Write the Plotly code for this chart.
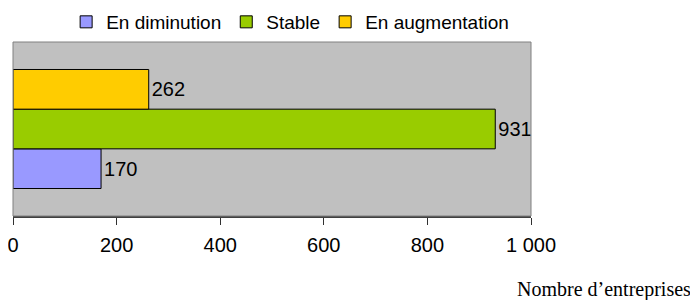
import plotly.graph_objects as go

series_names = ["En diminution", "Stable", "En augmentation"]
values = [170, 931, 262]
colors = ["#9999FF", "#99CC00", "#FFCC00"]
category = [""]
tick_vals = [0, 200, 400, 600, 800, 1000]
tick_text = ["0", "200", "400", "600", "800", "1 000"]
axis_title = "Nombre d\u2019entreprises"

# page body has an 8px default margin; figure is sized to fill the rest
fig = go.Figure()
for name, v, c in zip(series_names, values, colors):
    fig.add_trace(go.Bar(
        y=category, x=[v], name=name, orientation="h",
        marker=dict(color=c, line=dict(color="#000000", width=1)),
        text=[str(v)], textposition="outside",
        textfont=dict(family="Liberation Sans, Arial", size=20, color="#000000"),
        cliponaxis=False,
    ))

fig.update_layout(
    width=690, height=292,
    margin=dict(l=5, r=167, t=34, b=84, autoexpand=False),
    paper_bgcolor="white", plot_bgcolor="#C0C0C0",
    barmode="group", bargap=0.316, bargroupgap=0,
    font=dict(family="Liberation Sans, Arial", size=20, color="#000000"),
    showlegend=True,
    legend=dict(orientation="h", x=0.535, xanchor="center", y=1.115, yanchor="middle",
                yref="paper", traceorder="normal", itemwidth=30,
                font=dict(size=19), bgcolor="rgba(0,0,0,0)", tracegroupgap=0),
    xaxis=dict(range=[0, 1000], tickvals=tick_vals, ticktext=tick_text,
               showgrid=False, zeroline=False, showline=True, linecolor="#404040",
               linewidth=2, ticks="outside", ticklen=7, tickcolor="#303030",
               tickfont=dict(size=20), ticklabelstandoff=3, ticklabeloverflow="allow",
               fixedrange=True, automargin=False),
    yaxis=dict(showticklabels=False, showgrid=False, zeroline=False, showline=False,
               fixedrange=True, automargin=False),
    shapes=[dict(type="rect", xref="paper", yref="paper", x0=0, x1=1, y0=0, y1=1,
                 line=dict(color="#808080", width=1), layer="above")],
    annotations=[dict(text=axis_title, xref="paper", yref="paper",
                      x=680 / 518, y=-73 / 174,
                      xanchor="right", yanchor="middle", showarrow=False,
                      font=dict(family="Liberation Serif, Times New Roman", size=20,
                                color="#000000"))],
)

fig.write_html("out.html")
